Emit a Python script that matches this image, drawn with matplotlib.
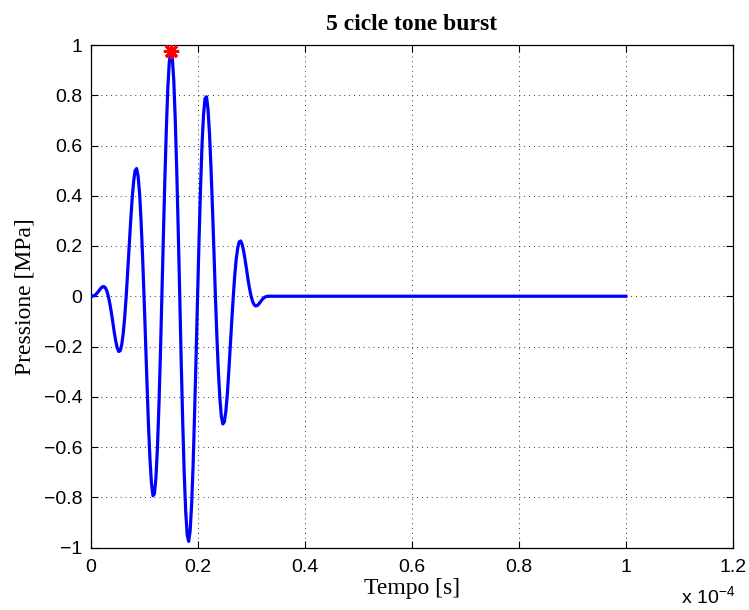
import matplotlib
matplotlib.use("Agg")
import matplotlib.pyplot as plt

# tempo in microsecondi (campioni), pressione in MPa
tempo_us = [
    0.00, 0.28, 0.56, 0.83, 1.11, 1.39, 1.67, 1.94, 2.22, 2.50, 2.78, 3.06,
    3.33, 3.61, 3.89, 4.17, 4.44, 4.72, 5.00, 5.28, 5.56, 5.83, 6.11, 6.39,
    6.67, 6.94, 7.22, 7.50, 7.78, 8.06, 8.33, 8.61, 8.89, 9.17, 9.44, 9.72,
    10.00, 10.28, 10.56, 10.83, 11.11, 11.39, 11.67, 11.94, 12.22, 12.50, 12.78, 13.06,
    13.33, 13.61, 13.89, 14.17, 14.44, 14.72, 15.00, 15.28, 15.56, 15.83, 16.11, 16.39,
    16.67, 16.94, 17.22, 17.50, 17.78, 18.06, 18.33, 18.61, 18.89, 19.17, 19.44, 19.72,
    20.00, 20.28, 20.56, 20.83, 21.11, 21.39, 21.67, 21.94, 22.22, 22.50, 22.78, 23.06,
    23.33, 23.61, 23.89, 24.17, 24.44, 24.72, 25.00, 25.28, 25.56, 25.83, 26.11, 26.39,
    26.67, 26.94, 27.22, 27.50, 27.78, 28.06, 28.33, 28.61, 28.89, 29.17, 29.44, 29.72,
    30.00, 30.28, 30.56, 30.83, 31.11, 31.39, 31.67, 31.94, 32.22, 32.50, 32.78, 33.06,
    33.33, 100.00,
]
pressione = [
    0.0, 0.0002, 0.0014, 0.0044, 0.0095, 0.0165, 0.0245, 0.0321, 0.0374, 0.0385, 0.0335, 0.0209,
    0.0, -0.0288, -0.0642, -0.1036, -0.1433, -0.1790, -0.2061, -0.2199, -0.2165, -0.1930, -0.1483, -0.0830,
    0.0, 0.0959, 0.1980, 0.2982, 0.3877, 0.4577, 0.5000, 0.5082, 0.4783, 0.4089, 0.3020, 0.1629,
    0.0, -0.1758, -0.3517, -0.5141, -0.6495, -0.7460, -0.7939, -0.7869, -0.7228, -0.6036, -0.4358, -0.2300,
    0.0, 0.2379, 0.4665, 0.6686, 0.8286, 0.9338, 0.9755, 0.9494, 0.8565, 0.7028, 0.4986, 0.2586,
    0.0, -0.2586, -0.4986, -0.7028, -0.8565, -0.9494, -0.9755, -0.9338, -0.8286, -0.6686, -0.4665, -0.2379,
    0.0, 0.2300, 0.4358, 0.6036, 0.7228, 0.7869, 0.7939, 0.7460, 0.6495, 0.5141, 0.3517, 0.1758,
    0.0, -0.1629, -0.3020, -0.4089, -0.4783, -0.5082, -0.5000, -0.4577, -0.3877, -0.2982, -0.1980, -0.0959,
    0.0, 0.0830, 0.1483, 0.1930, 0.2165, 0.2199, 0.2061, 0.1790, 0.1433, 0.1036, 0.0642, 0.0288,
    0.0, -0.0209, -0.0335, -0.0385, -0.0374, -0.0321, -0.0245, -0.0165, -0.0095, -0.0044, -0.0014, -0.0002,
    0.0, 0.0,
]
picco_t_us = 15.00
picco_p = 0.9755

xticks = [0, 0.2, 0.4, 0.6, 0.8, 1, 1.2]
yticks = [-1, -0.8, -0.6, -0.4, -0.2, 0, 0.2, 0.4, 0.6, 0.8, 1]

sans = ["Liberation Sans", "DejaVu Sans"]
serif = ["Liberation Serif", "DejaVu Serif"]

fig = plt.figure(figsize=(7.49, 6.10), dpi=100)
ax = fig.add_axes([90.5 / 749, 62.5 / 610, 642.5 / 749, 502.5 / 610])

# asse x in unita' di 1e-4 s
t = [v / 100.0 for v in tempo_us]
ax.plot(t, pressione, color=(0, 0, 1), linewidth=2.3, zorder=3)
ax.plot(picco_t_us / 100.0, picco_p, marker=(8, 2, 0), color="red",
        markersize=11, markeredgewidth=2.2, linestyle="none", zorder=4)

ax.set_xlim(0, 1.2)
ax.set_ylim(-1, 1)
ax.set_xticks(xticks)
ax.set_yticks(yticks)
ax.set_xticklabels(["0", "0.2", "0.4", "0.6", "0.8", "1", "1.2"], family=sans, fontsize=14)
ax.set_yticklabels(["\u22121", "\u22120.8", "\u22120.6", "\u22120.4", "\u22120.2", "0",
                    "0.2", "0.4", "0.6", "0.8", "1"], family=sans, fontsize=14)
ax.tick_params(axis="x", pad=8)
ax.tick_params(axis="y", pad=6)
ax.tick_params(direction="in", top=True, right=True, length=5, width=0.8, colors="black")
ax.grid(True, color="black", linestyle=(0, (1, 4)), linewidth=0.7, alpha=0.8)
for s in ax.spines.values():
    s.set_linewidth(0.9)
    s.set_color("black")

ax.set_title("5 cicle tone burst", family=serif, fontsize=17, fontweight="bold", pad=11)
ax.set_xlabel("Tempo [s]", family=serif, fontsize=17, labelpad=2)
ax.set_ylabel("Pressione [MPa]", family=serif, fontsize=17, labelpad=6)
fig.text(708 / 749, 13 / 610, "x 10$^{\\mathregular{\u22124}}$", family=sans, fontsize=14,
         ha="center", va="center")

fig.savefig("out.png", dpi=100, facecolor="white")
